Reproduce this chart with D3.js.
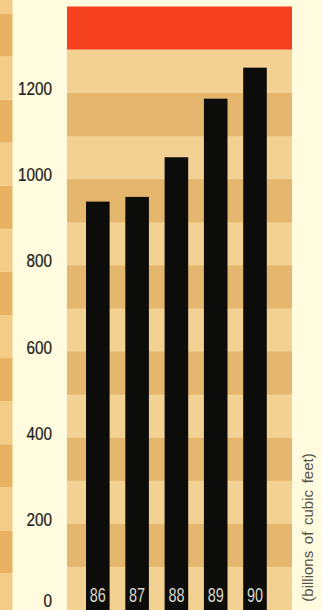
<!DOCTYPE html>
<html>
<head>
<meta charset="utf-8">
<script src="https://cdn.jsdelivr.net/npm/d3@7"></script>
<style>
  html, body { margin: 0; padding: 0; background: #fefbdf; }
  svg { display: block; }
</style>
</head>
<body>
<svg id="chart" width="322" height="610"></svg>
<script>
// ---- data ----
const years = ["86", "87", "88", "89", "90"];
const values = [947, 958, 1050, 1186, 1258];
const yTickValues = [0, 200, 400, 600, 800, 1000, 1200];
const yTickLabels = ["0", "200", "400", "600", "800", "1000", "1200"];
const axisTitle = "(billions of cubic feet)";
const stripeStep = 100;
const stripeTop = 1300;
const domainMax = 1400;

// ---- setup ----
const W = 322, H = 610;
const svg = d3.select("#chart");
const light = "#f3d192", dark = "#e5b66d";
const stripL = "#f3cd88", stripD = "#e8b262";
const FONT = "'Liberation Sans', Arial, sans-serif";

const y = d3.scaleLinear().domain([0, domainMax]).range([609.5, 6.5]);
const x = d3.scaleBand().domain(years).range([70.3, 282.5])
  .paddingInner(0.4).paddingOuter(0.4);

const plotX0 = 67, plotX1 = 292;

// background
svg.append("rect").attr("width", W).attr("height", H).attr("fill", "#fefbdf");

// left decorative strip (offset page stripes)
const stripBands = d3.range(0, domainMax + stripeStep, stripeStep);
svg.append("g").selectAll("rect").data(stripBands).join("rect")
  .attr("x", 0).attr("width", 12.5)
  .attr("y", d => y(d + stripeStep) + 7)
  .attr("height", d => y(d) - y(d + stripeStep))
  .attr("fill", d => (Math.round(d / stripeStep) % 2 === 0) ? stripL : stripD);

// plot stripes
const bands = d3.range(0, stripeTop, stripeStep);
svg.append("g").selectAll("rect").data(bands).join("rect")
  .attr("x", plotX0).attr("width", plotX1 - plotX0)
  .attr("y", d => y(d + stripeStep))
  .attr("height", d => y(d) - y(d + stripeStep) + 0.5)
  .attr("fill", d => (Math.round(d / stripeStep) % 2 === 0) ? light : dark);

// red top band
svg.append("rect")
  .attr("x", plotX0).attr("width", plotX1 - plotX0)
  .attr("y", y(domainMax)).attr("height", y(stripeTop) - y(domainMax))
  .attr("fill", "#f4401f");

// bars
svg.append("g").selectAll("rect").data(years).join("rect")
  .attr("x", d => x(d)).attr("width", x.bandwidth())
  .attr("y", (d, i) => y(values[i]))
  .attr("height", (d, i) => y(0) - y(values[i]) + 1)
  .attr("fill", "#0c0c0a");

// year labels inside bars (condensed look)
svg.append("g").selectAll("text").data(years).join("text")
  .attr("transform", d => `translate(${x(d) + x.bandwidth() / 2},602) scale(0.74,1)`)
  .attr("text-anchor", "middle")
  .attr("font-family", FONT)
  .attr("font-size", 19.5)
  .attr("fill", "#dad8cc")
  .text(d => d);

// y tick labels (condensed look)
svg.append("g").selectAll("text").data(yTickValues).join("text")
  .attr("transform", d => `translate(52,${Math.min(y(d) + 2.5, 607)}) scale(0.85,1)`)
  .attr("text-anchor", "end")
  .attr("font-family", FONT)
  .attr("font-size", 18)
  .attr("fill", "#1e1e1a")
  .attr("stroke", "#1e1e1a")
  .attr("stroke-width", 0.25)
  .text((d, i) => yTickLabels[i]);

// axis title (rotated)
svg.append("text")
  .attr("transform", "translate(313,527.5) rotate(-90)")
  .attr("text-anchor", "middle")
  .attr("font-family", FONT)
  .attr("font-size", 15)
  .attr("word-spacing", 2.5)
  .attr("fill", "#55534a")
  .text(axisTitle);
</script>
</body>
</html>
